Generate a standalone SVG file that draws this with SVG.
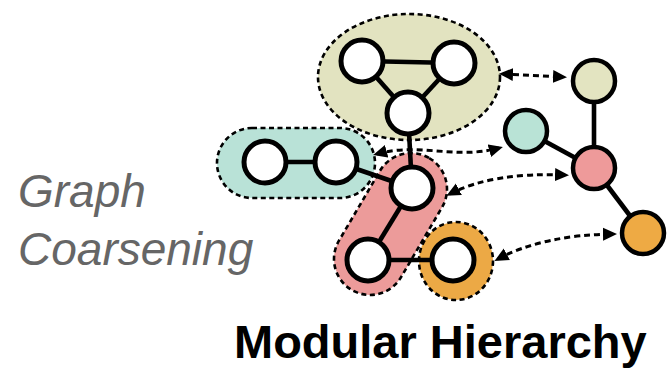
<svg xmlns="http://www.w3.org/2000/svg" width="668" height="369" viewBox="0 0 668 369">
<defs>
<style>
.region{stroke:#000;stroke-width:2.6;stroke-dasharray:5 3.5}
.node{fill:#fff;stroke:#000;stroke-width:5}
.snode{stroke:#000;stroke-width:4.5}
.edge{stroke:#000;stroke-width:4.6;fill:none}
.link{stroke:#000;stroke-width:3;stroke-dasharray:6 4;fill:none}
.lbl{font-family:"Liberation Sans",Arial,sans-serif;font-size:46px}
</style>
<marker id="ah" markerUnits="userSpaceOnUse" markerWidth="14" markerHeight="14" viewBox="0 0 14 14" refX="10" refY="7" orient="auto-start-reverse">
<path d="M0,0.5 L14,7 L0,13.5 z" fill="#000"/>
</marker>
</defs>
<rect width="668" height="369" fill="#fff"/>

<g id="region-yellow"><ellipse class="region" cx="409" cy="77" rx="91" ry="63" fill="#e2e3c0"/></g>
<g id="region-teal"><rect class="region" x="217" y="128" width="158" height="70" rx="35" fill="#b9e2d7"/></g>
<g id="region-red"><rect class="region" x="-36" y="-76.5" width="72" height="153" rx="36" fill="#ec9b9a" transform="translate(390.5,224) rotate(30.4)"/></g>
<g id="region-orange"><ellipse class="region" cx="456" cy="261" rx="37" ry="39" fill="#eca945"/></g>

<g id="connectors">
<path class="link" d="M503,74 L563,77" marker-start="url(#ah)" marker-end="url(#ah)"/>
<path class="link" d="M377,154 C420,142 455,160 499,148" marker-start="url(#ah)" marker-end="url(#ah)"/>
<path class="link" d="M450,194 Q492,172 565,175" marker-start="url(#ah)" marker-end="url(#ah)"/>
<path class="link" d="M498,259 Q543,235 613,234" marker-start="url(#ah)" marker-end="url(#ah)"/>
<line class="edge" x1="362" y1="61" x2="454" y2="63"/>
<line class="edge" x1="362" y1="61" x2="408" y2="113"/>
<line class="edge" x1="454" y1="63" x2="408" y2="113"/>
<line class="edge" x1="408" y1="113" x2="412" y2="188"/>
<line class="edge" x1="265" y1="162" x2="336" y2="162"/>
<line class="edge" x1="336" y1="162" x2="412" y2="188"/>
<line class="edge" x1="412" y1="188" x2="368" y2="260"/>
<line class="edge" x1="368" y1="260" x2="453" y2="260"/>
<line class="edge" x1="594" y1="81" x2="594" y2="168"/>
<line class="edge" x1="526" y1="131" x2="594" y2="168"/>
<line class="edge" x1="594" y1="168" x2="643" y2="233"/>
</g>

<g id="n-y1"><circle class="node" cx="362" cy="61" r="21"/></g>
<g id="n-y2"><circle class="node" cx="454" cy="63" r="21"/></g>
<g id="n-y3"><circle class="node" cx="408" cy="113" r="21"/></g>
<g id="n-t1"><circle class="node" cx="265" cy="162" r="21"/></g>
<g id="n-t2"><circle class="node" cx="336" cy="162" r="21"/></g>
<g id="n-r1"><circle class="node" cx="412" cy="188" r="21"/></g>
<g id="n-r2"><circle class="node" cx="368" cy="260" r="21"/></g>
<g id="n-o1"><circle class="node" cx="453" cy="260" r="21"/></g>

<g id="s-yellow"><circle class="snode" cx="594" cy="81" r="21" fill="#e3e4c1"/></g>
<g id="s-teal"><circle class="snode" cx="526" cy="131" r="21" fill="#b9e3d6"/></g>
<g id="s-red"><circle class="snode" cx="594" cy="168" r="21" fill="#ee9a9a"/></g>
<g id="s-orange"><circle class="snode" cx="643" cy="233" r="21" fill="#eeaa44"/></g>

<g id="label-coarsening">
<text class="lbl" x="18" y="207" font-style="italic" fill="#666">Graph</text>
<text class="lbl" x="18" y="265" font-style="italic" fill="#666">Coarsening</text>
</g>
<g id="label-title">
<text class="lbl" x="234" y="358" font-size="47" style="font-size:47px" font-weight="bold" fill="#000">Modular Hierarchy</text>
</g>
</svg>
